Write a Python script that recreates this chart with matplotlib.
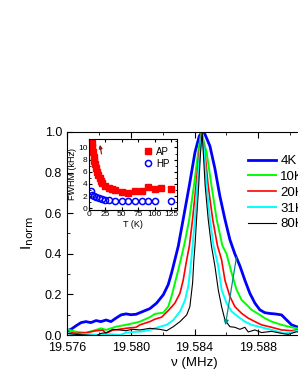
import matplotlib
matplotlib.use("Agg")
import matplotlib.pyplot as plt
from matplotlib.ticker import MultipleLocator

plt.rcParams["font.family"] = ["Liberation Sans", "DejaVu Sans"]

# normalised spectra (nu in MHz)
nu_4k = [19.57600, 19.57625, 19.57656, 19.57688, 19.57719, 19.57750, 19.57782, 19.57813,
         19.57845, 19.57876, 19.57907, 19.57939, 19.57970, 19.58001, 19.58033, 19.58058,
         19.58089, 19.58120, 19.58162, 19.58204, 19.58235, 19.58256, 19.58277, 19.58298,
         19.58329, 19.58367, 19.58403, 19.58430, 19.58448, 19.58465, 19.58497, 19.58528,
         19.58559, 19.58591, 19.58622, 19.58653, 19.58685, 19.58716, 19.58747, 19.58779,
         19.58810, 19.58841, 19.58873, 19.58904, 19.58946, 19.58978, 19.59009, 19.59040,
         19.59080, 19.59120]
i_4k = [0.021, 0.028, 0.045, 0.061, 0.066, 0.061, 0.071, 0.066, 0.074, 0.066, 0.083, 0.099,
        0.104, 0.100, 0.102, 0.110, 0.120, 0.130, 0.157, 0.198, 0.248, 0.305, 0.371, 0.437,
        0.570, 0.734, 0.900, 0.980, 1.000, 0.990, 0.930, 0.820, 0.685, 0.570, 0.470, 0.400,
        0.340, 0.270, 0.206, 0.157, 0.124, 0.110, 0.106, 0.104, 0.099, 0.074, 0.050, 0.041,
        0.035, 0.030]

nu_10k = [19.57600, 19.57656, 19.57719, 19.57782, 19.57813, 19.57845, 19.57907, 19.57970,
          19.58033, 19.58058, 19.58120, 19.58152, 19.58204, 19.58235, 19.58256, 19.58277,
          19.58298, 19.58319, 19.58340, 19.58367, 19.58396, 19.58423, 19.58443, 19.58476,
          19.58507, 19.58539, 19.58575, 19.58601, 19.58633, 19.58664, 19.58695, 19.58727,
          19.58758, 19.58800, 19.58841, 19.58884, 19.58946, 19.59009, 19.59040, 19.59080,
          19.59120]
i_10k = [0.028, 0.016, 0.011, 0.025, 0.033, 0.025, 0.041, 0.050, 0.061, 0.066, 0.088, 0.104,
         0.110, 0.140, 0.190, 0.256, 0.320, 0.388, 0.460, 0.570, 0.734, 0.900, 1.000, 0.900,
         0.734, 0.570, 0.440, 0.400, 0.305, 0.223, 0.173, 0.149, 0.124, 0.104, 0.083, 0.066,
         0.050, 0.038, 0.033, 0.030, 0.028]

nu_20k = [19.57600, 19.57656, 19.57719, 19.57782, 19.57824, 19.57845, 19.57887, 19.57928,
          19.57970, 19.58033, 19.58058, 19.58120, 19.58152, 19.58194, 19.58235, 19.58277,
          19.58309, 19.58329, 19.58351, 19.58368, 19.58388, 19.58409, 19.58430, 19.58446,
          19.58465, 19.58486, 19.58514, 19.58544, 19.58570, 19.58591, 19.58622, 19.58653,
          19.58695, 19.58737, 19.58779, 19.58821, 19.58884, 19.58946, 19.59009, 19.59040,
          19.59080, 19.59120]
i_20k = [0.016, 0.008, 0.011, 0.021, 0.024, 0.008, 0.024, 0.028, 0.033, 0.038, 0.050, 0.066,
         0.078, 0.088, 0.120, 0.157, 0.206, 0.270, 0.370, 0.440, 0.570, 0.734, 0.900, 1.000,
         0.900, 0.734, 0.570, 0.440, 0.370, 0.270, 0.190, 0.140, 0.107, 0.083, 0.066, 0.050,
         0.038, 0.025, 0.021, 0.025, 0.022, 0.020]

nu_31k = [19.57600, 19.57656, 19.57719, 19.57807, 19.57870, 19.57932, 19.57970, 19.58033,
          19.58058, 19.58120, 19.58183, 19.58225, 19.58267, 19.58309, 19.58340, 19.58361,
          19.58376, 19.58388, 19.58403, 19.58417, 19.58434, 19.58448, 19.58461, 19.58476,
          19.58497, 19.58519, 19.58549, 19.58570, 19.58601, 19.58633, 19.58674, 19.58716,
          19.58758, 19.58821, 19.58884, 19.58967, 19.59019, 19.59040, 19.59080, 19.59120]
i_31k = [0.011, 0.000, 0.005, 0.000, 0.004, 0.000, 0.011, 0.016, 0.016, 0.025, 0.041, 0.050,
         0.074, 0.116, 0.170, 0.240, 0.340, 0.440, 0.570, 0.734, 0.900, 1.000, 0.900, 0.734,
         0.570, 0.440, 0.340, 0.223, 0.157, 0.116, 0.090, 0.066, 0.050, 0.038, 0.025, 0.008,
         0.016, 0.020, 0.018, 0.015]

nu_80k = [19.57600, 19.57656, 19.57719, 19.57782, 19.57813, 19.57845, 19.57887, 19.57928,
          19.57970, 19.58008, 19.58058, 19.58120, 19.58183, 19.58225, 19.58267, 19.58309,
          19.58351, 19.58371, 19.58388, 19.58396, 19.58403, 19.58413, 19.58426, 19.58438,
          19.58448, 19.58455, 19.58467, 19.58486, 19.58506, 19.58528, 19.58549, 19.58570,
          19.58591, 19.58622, 19.58653, 19.58685, 19.58716, 19.58737, 19.58779, 19.58821,
          19.58884, 19.58946, 19.58988, 19.59040, 19.59080, 19.59120]
i_80k = [0.008, 0.003, 0.000, -0.004, 0.008, 0.011, 0.028, 0.025, 0.021, 0.028, 0.025, 0.033,
         0.028, 0.021, 0.041, 0.066, 0.099, 0.140, 0.256, 0.370, 0.440, 0.570, 0.734, 0.900,
         1.000, 0.900, 0.734, 0.570, 0.440, 0.340, 0.223, 0.140, 0.074, 0.041, 0.038, 0.028,
         0.038, 0.015, 0.025, 0.012, 0.018, 0.008, 0.003, 0.016, 0.010, 0.012]

labels = ["4K", "10K", "20K", "31K", "80K"]
colors = ["#0000ff", "#00ff00", "#ff0000", "#00ffff", "#000000"]
widths = [2.0, 1.4, 1.2, 1.4, 0.8]

# inset: FWHM vs temperature
t_ap = [4, 5, 6, 7, 8, 9, 10, 12, 14, 16, 18, 20, 25, 30, 35, 40, 50, 60, 70, 80, 90, 100, 110, 125]
fwhm_ap = [10.8, 10.0, 9.2, 8.4, 7.8, 7.2, 6.7, 6.0, 5.4, 4.9, 4.5, 4.2, 3.7, 3.4, 3.2, 3.0,
           2.7, 2.5, 2.8, 2.9, 3.5, 3.2, 3.4, 3.1]
t_hp = [3, 5, 8, 10, 15, 20, 25, 30, 40, 50, 60, 70, 80, 90, 100, 125]
fwhm_hp = [2.8, 2.2, 2.0, 1.8, 1.6, 1.5, 1.4, 1.3, 1.25, 1.2, 1.15, 1.15, 1.15, 1.2, 1.2, 1.2]

W, H = 298, 385
fig = plt.figure(figsize=(W / 100, H / 100), dpi=100)
ax = fig.add_axes([67 / W, 1 - 335 / H, 255 / W, 203 / H])

series = [(nu_4k, i_4k), (nu_10k, i_10k), (nu_20k, i_20k), (nu_31k, i_31k), (nu_80k, i_80k)]
for (x, y), lab, c, lw in zip(series, labels, colors, widths):
    ax.plot(x, y, color=c, lw=lw, label=lab)

ax.set_xlim(19.576, 19.592)
ax.set_ylim(0, 1.0)
ax.xaxis.set_major_locator(MultipleLocator(0.004))
ax.xaxis.set_minor_locator(MultipleLocator(0.002))
ax.yaxis.set_major_locator(MultipleLocator(0.2))
ax.yaxis.set_minor_locator(MultipleLocator(0.1))
ax.xaxis.set_major_formatter(plt.FormatStrFormatter("%.3f"))
ax.yaxis.set_major_formatter(plt.FormatStrFormatter("%.1f"))
ax.tick_params(which="both", direction="in", top=True, right=True, labelsize=9)
ax.tick_params(axis="x", pad=5)
ax.tick_params(which="major", length=4)
ax.tick_params(which="minor", length=2)
ax.set_xlabel("\u03bd (MHz)", fontsize=9.5, labelpad=2)
ax.set_ylabel("I$_{\\rm norm}$", fontsize=11, labelpad=6)

ax.annotate("", xy=(19.58591, 0.035), xytext=(19.58666, 0.396),
            arrowprops=dict(arrowstyle="-|>", color="#008b8b", lw=0.9, mutation_scale=7))

fig.legend(loc="upper left", bbox_to_anchor=(248 / W, 1 - 155 / H), frameon=False,
           fontsize=9.5, handlelength=2.1, handletextpad=0.35, labelspacing=0.27,
           borderpad=0, borderaxespad=0)

# inset
ins = fig.add_axes([89 / W, 1 - 210 / H, 88 / W, 71 / H])
ins.plot(t_ap, fwhm_ap, "s", color="#ff0000", ms=4.2, mec="#ff0000", label="AP")
ins.plot(t_hp, fwhm_hp, "o", mfc="none", mec="#0000ff", mew=1.1, ms=4.4, label="HP")
ins.set_xlim(0, 134)
ins.set_ylim(-0.3, 11.4)
ins.xaxis.set_major_locator(MultipleLocator(25))
ins.yaxis.set_major_locator(MultipleLocator(2))
ins.yaxis.set_minor_locator(MultipleLocator(1))
ins.tick_params(which="both", direction="in", top=True, right=True, labelsize=6, pad=1)
ins.tick_params(which="major", length=2.5)
ins.tick_params(which="minor", length=1.5)
ins.set_xlabel("T (K)", fontsize=6.5, labelpad=1)
ins.set_ylabel("FWHM (kHz)", fontsize=6.5, labelpad=1)
ins.annotate("", xy=(16, 10.9), xytext=(19.7, 8.5),
             arrowprops=dict(arrowstyle="-|>", color="#8b1a1a", lw=0.9, mutation_scale=5))
ins.legend(loc="upper right", frameon=False, fontsize=7, handletextpad=0.3,
           labelspacing=0.2, borderpad=0.3, handlelength=1.0)

fig.savefig("out.png", dpi=100)
